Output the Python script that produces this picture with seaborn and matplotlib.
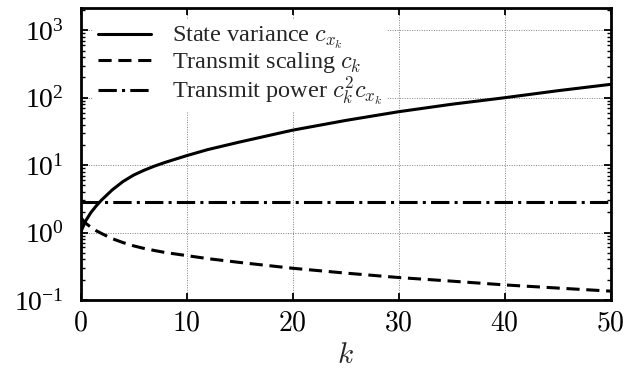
import matplotlib
matplotlib.use("Agg")
import matplotlib.pyplot as plt
import pandas as pd
import seaborn as sns
from matplotlib.ticker import LogLocator, FuncFormatter, NullFormatter

# Time index and the three quantities per step
k = [0, 0.5, 1, 1.5, 2, 3, 4, 5, 6, 7, 8, 10, 12, 15, 20, 25, 30, 35, 40, 45, 50]
state_variance = [1.0, 1.5, 2.0, 2.5, 3.05, 4.3, 5.7, 7.1, 8.4, 9.7, 11.0, 13.8, 17.0,
                  22.0, 33.0, 46.0, 62.0, 80.0, 100.0, 127.0, 158.0]
transmit_scaling = [1.68, 1.37, 1.19, 1.06, 0.965, 0.81, 0.71, 0.635, 0.58, 0.54, 0.505,
                    0.455, 0.41, 0.36, 0.295, 0.25, 0.215, 0.19, 0.167, 0.15, 0.135]
transmit_power = [2.83, 2.83, 2.83, 2.83, 2.83, 2.83, 2.83, 2.83, 2.83, 2.83, 2.83,
                  2.83, 2.83, 2.83, 2.83, 2.83, 2.83, 2.83, 2.83, 2.83, 2.83]

series_labels = [r"State variance $c_{x_k}$",
                 r"Transmit scaling $c_k$",
                 r"Transmit power $c_k^2 c_{x_k}$"]
x_ticks = [0, 10, 20, 30, 40, 50]

df = pd.concat([
    pd.DataFrame({"k": k, "value": state_variance, "series": series_labels[0]}),
    pd.DataFrame({"k": k, "value": transmit_scaling, "series": series_labels[1]}),
    pd.DataFrame({"k": k, "value": transmit_power, "series": series_labels[2]}),
], ignore_index=True)

sns.set_theme(style="ticks")
plt.rcParams["font.family"] = ["Liberation Serif", "DejaVu Serif"]
plt.rcParams["mathtext.fontset"] = "cm"

fig = plt.figure(figsize=(6.25, 3.68), dpi=100)
ax = fig.add_axes([0.1288, 0.185, 0.977 - 0.1288, 0.978 - 0.185])

dash_styles = {
    series_labels[0]: "",
    series_labels[1]: (4.3, 2.2),
    series_labels[2]: (6.0, 1.7, 1.0, 1.7),
}
sns.lineplot(data=df, x="k", y="value", style="series", style_order=series_labels,
             dashes=dash_styles, color="black", linewidth=2.2, legend=False,
             ax=ax, zorder=3)

ax.set_yscale("log")
ax.set_xlim(0, 50)
ax.set_ylim(0.1, 10 ** 3.33)
ax.set_xticks(x_ticks)
ax.xaxis.set_major_formatter(FuncFormatter(lambda v, p: rf"${v:g}$"))
ax.yaxis.set_major_locator(LogLocator(base=10, numticks=10))
ax.yaxis.set_minor_locator(LogLocator(base=10, subs=range(2, 10), numticks=20))
ax.yaxis.set_minor_formatter(NullFormatter())

ax.grid(which="major", linestyle=(0, (1, 1.5)), color="0.5", linewidth=0.7)
ax.set_axisbelow(True)
ax.tick_params(which="both", direction="in", top=True, right=True, colors="black")
ax.tick_params(which="major", length=5, width=1.3, labelsize=20)
ax.tick_params(axis="y", which="major", pad=12)
ax.tick_params(axis="x", which="major", pad=8)
ax.tick_params(which="minor", length=3, width=1.0)
for s in ax.spines.values():
    s.set_linewidth(2.0)
    s.set_color("black")

ax.set_xlabel(r"$k$", fontsize=21, labelpad=5)
ax.set_ylabel("")

leg = ax.legend(handles=ax.lines[:3], labels=series_labels, loc="upper left",
                fontsize=17.5, frameon=True, facecolor="white", edgecolor="none",
                framealpha=1.0, fancybox=False, handlelength=2.2, handletextpad=0.85,
                labelspacing=-0.03, borderpad=0.2, borderaxespad=0.5)
# keep the legend box under the curves but over the grid
leg.set_zorder(2.5)

fig.savefig("out.png", dpi=100)
